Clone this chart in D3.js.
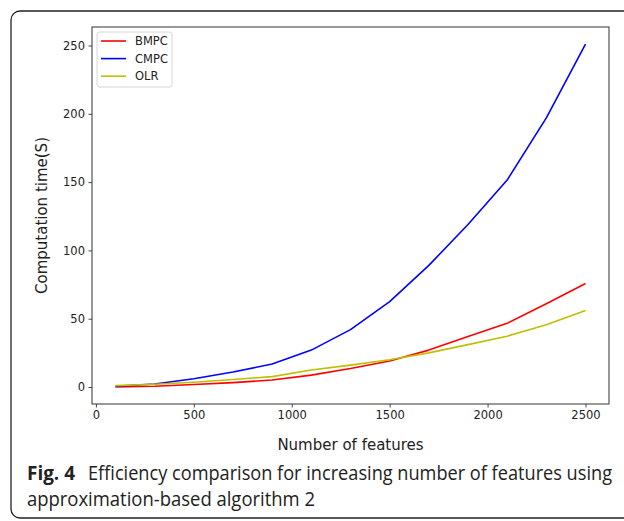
<!DOCTYPE html>
<html>
<head>
<meta charset="utf-8">
<script src="https://cdn.jsdelivr.net/npm/d3@7"></script>
<style>
  html, body { margin: 0; padding: 0; background: #fff; }
  svg { display: block; }
</style>
</head>
<body>
<svg id="fig" width="624" height="521"></svg>
<script>
// Number of features on the x axis
const features = [100, 300, 500, 700, 900, 1100, 1300, 1500, 1700, 1900, 2100, 2300, 2500];
// Computation time (seconds) for each method
const bmpc = [0.1, 0.6, 1.8, 3.2, 5.1, 8.7, 13.5, 19.0, 27.0, 37.0, 46.6, 61.0, 75.8];
const cmpc = [0.5, 2.2, 6.0, 11.0, 16.8, 27.0, 42.0, 62.5, 89.0, 119.0, 151.5, 197.0, 251.0];
const olr  = [1.0, 2.0, 3.5, 5.5, 7.6, 12.4, 16.0, 20.0, 25.0, 31.0, 37.2, 45.5, 56.0];
const seriesNames = ["BMPC", "CMPC", "OLR"];
const seriesColors = ["#ff0000", "#0000ff", "#bfbf00"];
const xTicks = [0, 500, 1000, 1500, 2000, 2500];
const yTicks = [0, 50, 100, 150, 200, 250];
const xTitle = "Number of features";
const yTitle = "Computation time(S)";
const captionLabel = "Fig. 4";
const captionLines = ["Efficiency comparison for increasing number of features using",
                      "approximation-based algorithm 2"];

const svg = d3.select("#fig");
const tickFont = "DejaVu Sans, sans-serif";
const capFont = "'Open Sans', 'Noto Sans', sans-serif";

// Rounded frame around the figure, running off the right and bottom edges
svg.append("rect")
  .attr("x", 11).attr("y", 11)
  .attr("width", 640).attr("height", 507)
  .attr("rx", 9).attr("ry", 9)
  .attr("fill", "none").attr("stroke", "#222").attr("stroke-width", 1.3);

const plot = { left: 92, top: 27, right: 609, bottom: 404 };

// Matplotlib-style 5% padding around the data range
const xMin = d3.min(features), xMax = d3.max(features);
const xPad = (xMax - xMin) * 0.05;
const allY = bmpc.concat(cmpc, olr);
const yMin = d3.min(allY), yMax = d3.max(allY);
const yPad = (yMax - yMin) * 0.05;

const x = d3.scaleLinear().domain([xMin - xPad, xMax + xPad]).range([plot.left, plot.right]);
const y = d3.scaleLinear().domain([yMin - yPad, yMax + yPad]).range([plot.bottom, plot.top]);

// Axes
const xAxis = svg.append("g")
  .attr("transform", `translate(0,${plot.bottom})`)
  .call(d3.axisBottom(x).tickValues(xTicks).tickFormat(d3.format("d"))
    .tickSize(3.5).tickPadding(3.5).tickSizeOuter(0));
const yAxis = svg.append("g")
  .attr("transform", `translate(${plot.left},0)`)
  .call(d3.axisLeft(y).tickValues(yTicks).tickFormat(d3.format("d"))
    .tickSize(3.5).tickPadding(3.5).tickSizeOuter(0));

[xAxis, yAxis].forEach(g => {
  g.select(".domain").remove();
  g.selectAll(".tick line").attr("stroke", "#333").attr("stroke-width", 0.9);
  g.selectAll(".tick text").attr("fill", "#222")
    .style("font-family", tickFont).style("font-size", "11.5px");
});

// Series lines
const line = d3.line().x((d, i) => x(features[i])).y(d => y(d));
[bmpc, cmpc, olr].forEach((vals, k) => {
  svg.append("path")
    .datum(vals)
    .attr("d", line)
    .attr("fill", "none")
    .attr("stroke", seriesColors[k])
    .attr("stroke-width", 1.6)
    .attr("stroke-linejoin", "round");
});

// Plot frame
svg.append("rect")
  .attr("x", plot.left).attr("y", plot.top)
  .attr("width", plot.right - plot.left).attr("height", plot.bottom - plot.top)
  .attr("fill", "none").attr("stroke", "#333").attr("stroke-width", 1);

// Legend
const legend = svg.append("g").attr("transform", "translate(97,32)");
legend.append("rect")
  .attr("width", 75).attr("height", 55).attr("rx", 2.5)
  .attr("fill", "#fff").attr("fill-opacity", 0.8)
  .attr("stroke", "#d6d6d6").attr("stroke-width", 1);
seriesNames.forEach((name, k) => {
  const yy = 9 + k * 17.6;
  legend.append("line")
    .attr("x1", 4).attr("x2", 29).attr("y1", yy).attr("y2", yy)
    .attr("stroke", seriesColors[k]).attr("stroke-width", 1.6);
  legend.append("text")
    .attr("x", 38).attr("y", yy).attr("dy", "0.36em")
    .style("font-family", tickFont).style("font-size", "11.5px").attr("fill", "#222")
    .text(name);
});

// Axis titles
svg.append("text")
  .attr("x", (plot.left + plot.right) / 2).attr("y", 450)
  .attr("text-anchor", "middle")
  .style("font-family", tickFont).style("font-size", "15px").attr("fill", "#222")
  .text(xTitle);
svg.append("text")
  .attr("transform", `translate(47,${(plot.top + plot.bottom) / 2}) rotate(-90)`)
  .attr("text-anchor", "middle")
  .style("font-family", tickFont).style("font-size", "15px").attr("fill", "#222")
  .text(yTitle);

// Caption (condensed to fit the frame width)
svg.append("text")
  .attr("x", 27).attr("y", 480)
  .attr("textLength", 48).attr("lengthAdjust", "spacingAndGlyphs")
  .style("font-family", capFont).style("font-size", "20px")
  .style("font-weight", "bold").attr("fill", "#222")
  .text(captionLabel);
svg.append("text")
  .attr("x", 88).attr("y", 480)
  .attr("textLength", 524).attr("lengthAdjust", "spacingAndGlyphs")
  .style("font-family", capFont).style("font-size", "20px").attr("fill", "#222")
  .text(captionLines[0]);
svg.append("text")
  .attr("x", 27).attr("y", 506)
  .attr("textLength", 288).attr("lengthAdjust", "spacingAndGlyphs")
  .style("font-family", capFont).style("font-size", "20px").attr("fill", "#222")
  .text(captionLines[1]);
</script>
</body>
</html>
